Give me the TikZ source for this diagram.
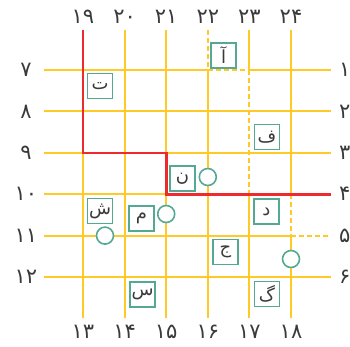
\documentclass[tikz,border=0pt]{standalone}
\usepackage{fontspec}
\newfontfamily\arabicfont[Script=Arabic]{DejaVu Sans}
\definecolor{gridy}{HTML}{FFC928}
\definecolor{redl}{HTML}{EE2A2F}
\definecolor{teal}{HTML}{55A993}
\definecolor{txt}{HTML}{3A3A3A}
\begin{document}
\begin{tikzpicture}[x=1pt,y=-1pt,
  gl/.style={gridy,line width=2pt},
  gd/.style={gridy,line width=2pt,dash pattern=on 5pt off 3pt},
  rl/.style={redl,line width=2.6pt,line join=miter},
  lbox/.style={draw=teal,fill=white,line width=1.4pt,minimum size=25pt,inner sep=0pt,text=txt,font=\arabicfont\fontsize{18}{18}\selectfont},
  ring/.style={circle,draw=teal,fill=white,line width=1.6pt,minimum size=17pt,inner sep=0pt},
  num/.style={text=txt,font=\arabicfont\fontsize{21}{21}\selectfont,inner sep=0pt}]
\useasboundingbox (0,0) rectangle (350,346);
% columns x
\def\cA{83}\def\cB{124.6}\def\cC{166.2}\def\cD{207.8}\def\cE{249.4}\def\cF{291}
% rows y
\def\rA{70}\def\rB{111.4}\def\rC{152.8}\def\rD{194.2}\def\rE{235.6}\def\rF{277}
% horizontal lines
\draw[gl] (44,\rA) -- (\cD,\rA);
\draw[gd] (\cD,\rA) -- (\cE,\rA);
\draw[gl] (\cE,\rA) -- (331,\rA);
\foreach \y in {\rB,\rC,\rD,\rF} \draw[gl] (44,\y) -- (331,\y);
\draw[gl] (44,\rE) -- (\cF,\rE);
\draw[gd] (\cF,\rE) -- (331,\rE);
% vertical lines
\foreach \x in {\cA,\cB,\cC} \draw[gl] (\x,30) -- (\x,318);
\draw[gd] (\cD,30) -- (\cD,\rA);
\draw[gl] (\cD,\rA) -- (\cD,318);
\draw[gl] (\cE,30) -- (\cE,\rA);
\draw[gd] (\cE,\rA) -- (\cE,\rD);
\draw[gl] (\cE,\rD) -- (\cE,318);
\draw[gl] (\cF,30) -- (\cF,\rD);
\draw[gd] (\cF,\rD) -- (\cF,\rE);
\draw[gl] (\cF,\rE) -- (\cF,318);
% red path
\draw[rl] (\cA,30) -- (\cA,\rC) -- (\cC,\rC) -- (\cC,\rD) -- (331,\rD);
% labels
\foreach \x/\t in {\cA/۱۹,\cB/۲۰,\cC/۲۱,\cD/۲۲,\cE/۲۳,\cF/۲۴}
  \node[num] at (\x,17) {\t};
\foreach \x/\t in {\cA/۱۳,\cB/۱۴,\cC/۱۵,\cD/۱۶,\cE/۱۷,\cF/۱۸}
  \node[num] at (\x,332) {\t};
\foreach \y/\t in {\rA/۷,\rB/۸,\rC/۹,\rD/۱۰,\rE/۱۱,\rF/۱۲}
  \node[num] at (26,\y) {\t};
\foreach \y/\t in {\rA/۱,\rB/۲,\rC/۳,\rD/۴,\rE/۵,\rF/۶}
  \node[num,anchor=west] at (339,\y) {\t};
% boxes
\node[lbox] (t) at (100,86) {ت};
\node[lbox] (a) at (223.5,55.5) {آ};
\node[lbox] (f) at (267,137) {ف};
\node[lbox] (n) at (182.5,178.5) {ن};
\node[lbox] (sh) at (100,211) {ش};
\node[lbox] (m) at (141.5,218.5) {م};
\node[lbox] (d) at (266.5,211.5) {د};
\node[lbox] (j) at (225.5,252) {ج};
\node[lbox] (s) at (142.5,294.5) {س};
\node[lbox] (g) at (267,294) {گ};
% circles
\node[ring] (c1) at (\cD,177) {};
\node[ring] (c2) at (\cC,214) {};
\node[ring] (c3) at (105,\rE) {};
\node[ring] (c4) at (\cF,259) {};
\end{tikzpicture}
\end{document}
